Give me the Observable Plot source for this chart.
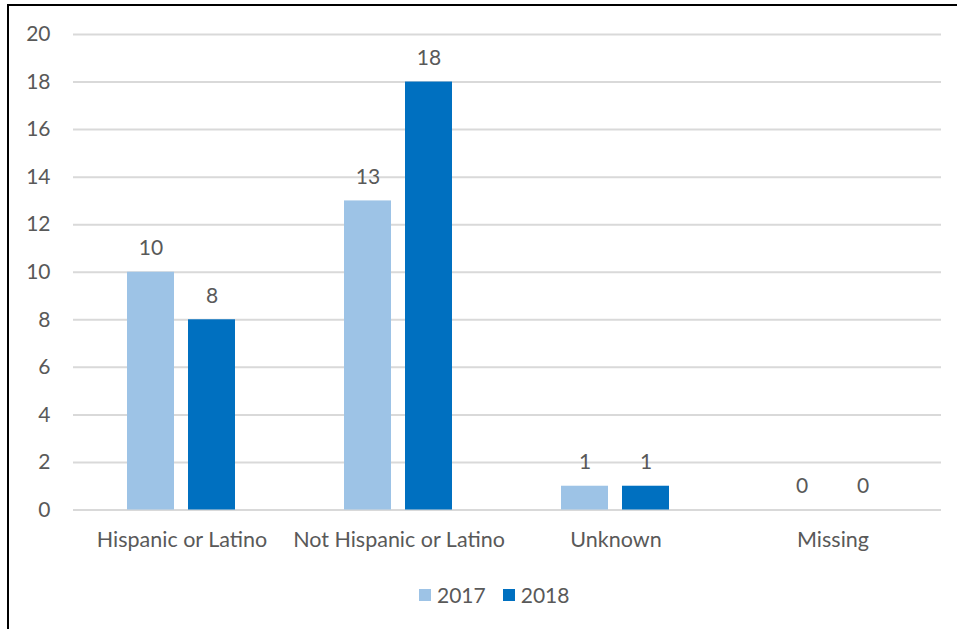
<!DOCTYPE html>
<html>
<head>
<meta charset="utf-8">
<script src="https://cdn.jsdelivr.net/npm/d3@7"></script>
<script src="https://cdn.jsdelivr.net/npm/@observablehq/plot@0.6"></script>
<style>
  html, body { margin: 0; padding: 0; background: #fff; }
  body { width: 957px; height: 629px; position: relative; overflow: hidden; font-family: Lato, "Open Sans", sans-serif; }
  #frame { position: absolute; left: 7px; top: 4px; width: 1000px; height: 700px; border-left: 2px solid #000; border-top: 2px solid #000; pointer-events: none; }
  #chart { position: absolute; left: 0; top: 0; }
  #legend { position: absolute; left: 419px; top: 582px; display: flex; align-items: center; font-size: 21px; color: #595959; }
  #legend .item { display: flex; align-items: center; margin-right: 17px; }
  #legend .sw { width: 12px; height: 12px; margin-right: 6px; }
</style>
</head>
<body>
<div id="chart"></div>
<div id="legend"></div>
<div id="frame"></div>
<script>
const categories = ["Hispanic or Latino", "Not Hispanic or Latino", "Unknown", "Missing"];
const years = ["2017", "2018"];
const values2017 = [10, 13, 1, 0];
const values2018 = [8, 18, 1, 0];
const yTicks = [0, 2, 4, 6, 8, 10, 12, 14, 16, 18, 20];
const colors = ["#9DC3E6", "#0070C0"];

const data = [];
categories.forEach((c, i) => {
  data.push({category: c, year: years[0], value: values2017[i]});
  data.push({category: c, year: years[1], value: values2018[i]});
});

const plot = Plot.plot({
  width: 957,
  height: 575,
  marginLeft: 72,
  marginRight: 15,
  marginTop: 34,
  marginBottom: 65.5,
  style: {fontFamily: "Lato, 'Open Sans', sans-serif", fontSize: "21.5px", color: "#595959", background: "transparent"},
  fx: {domain: categories, padding: 0, label: null, axis: "bottom", tickSize: 0, tickPadding: 22},
  x: {domain: years, paddingInner: 0.2258, paddingOuter: 0.867, axis: null},
  y: {domain: [0, 20], ticks: yTicks, label: null, tickSize: 0, tickPadding: 23},
  color: {domain: years, range: colors},
  marks: [
    Plot.gridY(yTicks, {stroke: "#D9D9D9", strokeWidth: 2, strokeOpacity: 1}),
    Plot.barY(data, {fx: "category", x: "year", y: "value", fill: "year"}),
    Plot.text(data, {fx: "category", x: "year", y: "value", text: d => String(d.value), lineAnchor: "bottom", dy: -17, fill: "#595959", fontSize: 21}),
    Plot.axisY({ticks: yTicks, tickSize: 0, tickPadding: 23, fill: "#595959", fontSize: 21})
  ]
});
document.getElementById("chart").appendChild(plot);

const legend = document.getElementById("legend");
years.forEach((y, i) => {
  const item = document.createElement("div");
  item.className = "item";
  const sw = document.createElement("div");
  sw.className = "sw";
  sw.style.background = colors[i];
  const t = document.createElement("span");
  t.textContent = y;
  item.appendChild(sw);
  item.appendChild(t);
  legend.appendChild(item);
});
</script>
</body>
</html>
